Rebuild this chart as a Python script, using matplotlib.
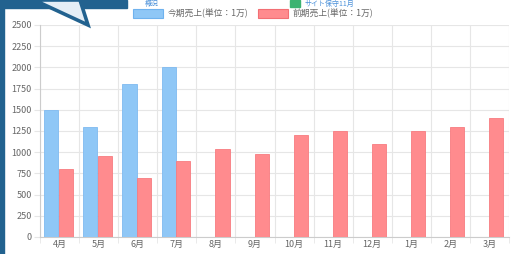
import matplotlib
matplotlib.use("Agg")
import matplotlib.pyplot as plt
from matplotlib.patches import Polygon, Rectangle
import numpy as np

plt.rcParams['font.family'] = ['Noto Sans CJK JP', 'DejaVu Sans']

months = ["4月", "5月", "6月", "7月", "8月", "9月", "10月", "11月", "12月", "1月", "2月", "3月"]
current = [1500, 1300, 1800, 2000]  # 今期: 4月〜7月のみ
previous = [800, 950, 700, 900, 1040, 980, 1200, 1250, 1100, 1250, 1300, 1400]
label_cur = "今期売上(単位：1万)"
label_prev = "前期売上(単位：1万)"

BLUE = "#8fc7f6"
RED = "#ff8b8e"
GRID = "#e6e6e6"
TXT = "#666666"

W, H = 511, 254
fig = plt.figure(figsize=(W / 100, H / 100), dpi=100)

# プロット領域 (ピクセル基準)
x0, x1, ytop, ybot = 40, 509, 25, 237
ax = fig.add_axes([x0 / W, (H - ybot) / H, (x1 - x0) / W, (ybot - ytop) / H])

x = np.arange(len(months))
ax.bar(x[:len(current)] - 0.21, current, width=0.36, color=BLUE, edgecolor="#7fbaf0", linewidth=0.6, zorder=3)
ax.bar(x + 0.17, previous, width=0.36, color=RED, edgecolor="#f77c80", linewidth=0.6, zorder=3)

ax.set_xlim(-0.5, len(months) - 0.5)
ax.set_ylim(0, 2500)
ax.set_yticks(range(0, 2501, 250))
ax.set_xticks(x)
ax.set_xticklabels(months)
ax.set_xticks(np.arange(-0.5, len(months), 1), minor=True)
ax.grid(axis="x", which="minor", color=GRID, lw=0.8, zorder=0)
ax.grid(axis="y", which="major", color=GRID, lw=0.8, zorder=0)
ax.tick_params(axis="x", which="major", length=0, colors=TXT, labelsize=6.5, pad=2)
ax.tick_params(axis="x", which="minor", length=4, color=GRID)
ax.tick_params(axis="y", length=4, color=GRID, colors=TXT, labelsize=6.5, pad=2)
for s in ["top", "right"]:
    ax.spines[s].set_visible(False)
for s in ["left", "bottom"]:
    ax.spines[s].set_color("#cccccc")
    ax.spines[s].set_linewidth(0.8)

# 凡例 (手組み)
def px(xp, yp):
    return xp / W, 1 - yp / H

for bx, col, ec, lab in [(133, BLUE, "#6fb2ee", label_cur), (258, RED, "#f26f74", label_prev)]:
    fig.patches.append(Rectangle(px(bx, 18), 30 / W, 9 / H, transform=fig.transFigure,
                                 facecolor=col, edgecolor=ec, lw=0.8))
    fig.text(*px(bx + 35, 13.5), lab, fontsize=6.3, color=TXT, va="center", ha="left")

# 画面の装飾: 左枠と吹き出し
DARK = "#22628f"
fig.patches.append(Rectangle((0, 0), 4 / W, 1, transform=fig.transFigure, color=DARK, zorder=10))
fig.patches.append(Rectangle(px(0, 8), 127 / W, 8 / H, transform=fig.transFigure, color=DARK, zorder=10))
fig.patches.append(Polygon([px(34, 0), px(88, 25), px(80, 0)], closed=True, transform=fig.transFigure,
                           facecolor="#e4eef6", edgecolor=DARK, lw=2.6, zorder=11))
fig.patches.append(Rectangle(px(290, 7), 10 / W, 7 / H, transform=fig.transFigure, color="#3cb371", zorder=10))
fig.text(*px(305, 8), "サイト保守11月", fontsize=5, color="#4a90d9", va="bottom", ha="left")
fig.text(*px(145, 8), "概況", fontsize=5, color="#4a90d9", va="bottom", ha="left")

fig.savefig("out.png", dpi=100)
